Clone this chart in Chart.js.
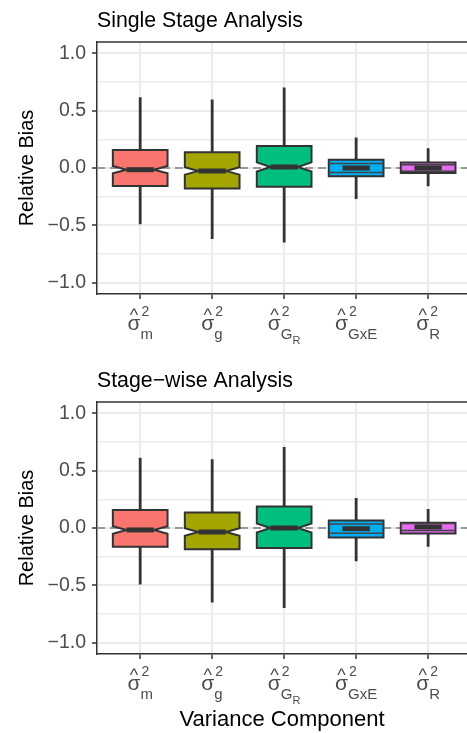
<!DOCTYPE html>
<html>
<head>
<meta charset="utf-8">
<script src="https://cdn.jsdelivr.net/npm/chart.js@4"></script>
<style>
html, body { margin: 0; padding: 0; background: #fff; }
canvas { position: absolute; left: 0; }
#chart1 { top: 0; }
#chart2 { top: 360px; }
</style>
</head>
<body>
<canvas id="chart1" width="467" height="360"></canvas>
<canvas id="chart2" width="467" height="373"></canvas>
<script>
// categories: subscripts of sigma-hat squared
const components = ['m', 'g', 'G', 'GxE', 'R']
const subSub = ['', '', 'R', '', '']
const boxColors = ['#F8766D', '#A3A500', '#00BF7D', '#00B0F6', '#E76BF3']
const yTicks = [-1, -0.75, -0.5, -0.25, 0, 0.25, 0.5, 0.75, 1]

// Single stage analysis
const singleLow = [-0.49, -0.62, -0.65, -0.27, -0.16]
const singleQ1 = [-0.158, -0.178, -0.164, -0.072, -0.043]
const singleMed = [-0.015, -0.026, 0.009, 0.0, 0.0]
const singleQ3 = [0.158, 0.138, 0.192, 0.072, 0.048]
const singleHigh = [0.617, 0.597, 0.703, 0.267, 0.172]
const singleNotch = [0.032, 0.032, 0.04, 0.04, 0.029]

// Stage-wise analysis
const stageLow = [-0.493, -0.65, -0.699, -0.29, -0.163]
const stageQ1 = [-0.163, -0.186, -0.174, -0.082, -0.047]
const stageMed = [-0.017, -0.035, 0.0, -0.006, 0.009]
const stageQ3 = [0.157, 0.136, 0.188, 0.066, 0.046]
const stageHigh = [0.614, 0.6, 0.707, 0.261, 0.165]
const stageNotch = [0.033, 0.033, 0.04, 0.04, 0.03]

const flatNotch = [false, false, false, true, true]
const boxWidth = 0.76
const font = '"Liberation Sans", Arial, sans-serif'

function boxPlugin(stats){
  return {
    id: 'boxes',
    beforeDatasetsDraw(chart){
      const {ctx, chartArea, scales: {x, y}} = chart
      ctx.save()
      // dashed zero line
      ctx.strokeStyle = '#999999'
      ctx.lineWidth = 2.2
      ctx.setLineDash([8, 5])
      ctx.beginPath()
      ctx.moveTo(chartArea.left, y.getPixelForValue(0))
      ctx.lineTo(chartArea.right, y.getPixelForValue(0))
      ctx.stroke()
      ctx.setLineDash([])

      components.forEach((c, i) => {
        const cx = x.getPixelForValue(i + 1)
        const xl = x.getPixelForValue(i + 1 - boxWidth / 2)
        const xr = x.getPixelForValue(i + 1 + boxWidth / 2)
        const ind = (xr - xl) / 4
        const yLow = y.getPixelForValue(stats.low[i])
        const yQ1 = y.getPixelForValue(stats.q1[i])
        const yMed = y.getPixelForValue(stats.med[i])
        const yQ3 = y.getPixelForValue(stats.q3[i])
        const yHigh = y.getPixelForValue(stats.high[i])
        const yNu = y.getPixelForValue(stats.med[i] + stats.notch[i])
        const yNl = y.getPixelForValue(stats.med[i] - stats.notch[i])

        // whiskers
        ctx.strokeStyle = '#333333'
        ctx.lineWidth = 2.8
        ctx.beginPath()
        ctx.moveTo(cx, yHigh); ctx.lineTo(cx, yQ3)
        ctx.moveTo(cx, yQ1); ctx.lineTo(cx, yLow)
        ctx.stroke()

        // box
        ctx.beginPath()
        if (flatNotch[i]) {
          ctx.rect(xl, yQ3, xr - xl, yQ1 - yQ3)
        } else {
          ctx.moveTo(xl, yQ3)
          ctx.lineTo(xl, yNu)
          ctx.lineTo(xl + ind, yMed)
          ctx.lineTo(xl, yNl)
          ctx.lineTo(xl, yQ1)
          ctx.lineTo(xr, yQ1)
          ctx.lineTo(xr, yNl)
          ctx.lineTo(xr - ind, yMed)
          ctx.lineTo(xr, yNu)
          ctx.lineTo(xr, yQ3)
          ctx.closePath()
        }
        ctx.fillStyle = boxColors[i]
        ctx.fill()
        ctx.lineWidth = 2
        ctx.strokeStyle = '#333333'
        ctx.stroke()
        if (flatNotch[i]) {
          ctx.lineWidth = 1.5
          ctx.strokeStyle = '#444444'
          ctx.beginPath()
          ctx.moveTo(xl, yNu); ctx.lineTo(xr, yNu)
          ctx.moveTo(xl, yNl); ctx.lineTo(xr, yNl)
          ctx.stroke()
        }
        // median
        ctx.lineWidth = 5
        ctx.strokeStyle = '#333333'
        ctx.beginPath()
        ctx.moveTo(xl + ind, yMed)
        ctx.lineTo(xr - ind, yMed)
        ctx.stroke()
      })
      ctx.restore()
    },
    afterDraw(chart){
      const {ctx, chartArea, scales: {x}} = chart
      ctx.save()
      // panel top border
      ctx.strokeStyle = '#333333'
      ctx.lineWidth = 1.5
      ctx.beginPath()
      ctx.moveTo(chartArea.left, chartArea.top)
      ctx.lineTo(chartArea.right, chartArea.top)
      ctx.stroke()

      // panel title
      ctx.fillStyle = '#000'
      ctx.font = `21.3px ${font}`
      ctx.textAlign = 'left'
      ctx.textBaseline = 'alphabetic'
      ctx.fillText(stats.title, chartArea.left, chartArea.top - 15.5)

      // x labels: sigma hat squared with subscripts
      const base = chartArea.bottom
      ctx.fillStyle = '#4D4D4D'
      components.forEach((c, i) => {
        const cx = x.getPixelForValue(i + 1)
        ctx.font = `21px ${font}`
        const sw = ctx.measureText('σ').width
        ctx.font = `15px ${font}`
        const subW = ctx.measureText(c).width
        ctx.font = `11px ${font}`
        const ssW = subSub[i] ? ctx.measureText(subSub[i]).width : 0
        ctx.font = `14px ${font}`
        const supW = ctx.measureText('2').width
        const total = sw + Math.max(subW + ssW, supW + 1)
        const left = cx - total / 2

        ctx.font = `21px ${font}`
        ctx.fillText('σ', left, base + 36)
        ctx.font = `18px ${font}`
        const hw = ctx.measureText('^').width
        ctx.fillText('^', left + sw / 2 - hw / 2, base + 27)
        ctx.font = `14px ${font}`
        ctx.fillText('2', left + sw + 1, base + 22)
        ctx.font = `15px ${font}`
        ctx.fillText(c, left + sw, base + 44.5)
        if (subSub[i]) {
          ctx.font = `11px ${font}`
          ctx.fillText(subSub[i], left + sw + subW, base + 49.5)
        }
      })
      ctx.restore()
    }
  }
}

function makeChart(id, stats, xScaleHeight, xTitle){
  const isMajor = v => Math.abs(v % 0.5) < 1e-9
  return new Chart(document.getElementById(id).getContext('2d'), {
    type: 'scatter',
    data: { datasets: [] },
    options: {
      responsive: false,
      animation: false,
      layout: { padding: { left: 15, top: 42, right: 0, bottom: 0 } },
      plugins: { legend: { display: false }, tooltip: { enabled: false } },
      scales: {
        x: {
          type: 'linear', min: 0.4, max: 5.54,
          afterBuildTicks: s => { s.ticks = components.map((c, i) => ({ value: i + 1 })) },
          afterFit: s => { s.height = xScaleHeight },
          ticks: { callback: () => '', autoSkip: false },
          grid: { color: '#EBEBEB', lineWidth: 2, tickLength: 5, tickColor: '#333333', tickWidth: 1.5 },
          border: { color: '#333333', width: 1.5 },
          title: {
            display: !!xTitle, text: xTitle || '', color: '#000',
            font: { family: font, size: 22 }, padding: { top: 0, bottom: 0 }
          }
        },
        y: {
          type: 'linear', min: -1.1, max: 1.1,
          afterBuildTicks: s => { s.ticks = yTicks.map(v => ({ value: v })) },
          afterFit: s => { s.width = 82 },
          ticks: {
            callback: v => isMajor(v) ? v.toFixed(1).replace('-', '\u2212') : '',
            font: { family: font, size: 19.5 }, color: '#4D4D4D', padding: 6, autoSkip: false
          },
          grid: {
            color: '#EBEBEB',
            lineWidth: ctx => isMajor(ctx.tick.value) ? 2 : 1.4,
            tickLength: 5,
            tickColor: ctx => isMajor(ctx.tick.value) ? '#333333' : 'rgba(0,0,0,0)',
            tickWidth: 1.5
          },
          border: { color: '#333333', width: 1.5 },
          title: {
            display: true, text: 'Relative Bias', color: '#000',
            font: { family: font, size: 20 }, padding: 0
          }
        }
      }
    },
    plugins: [boxPlugin(stats)]
  })
}

makeChart('chart1', {
  title: 'Single Stage Analysis',
  low: singleLow, q1: singleQ1, med: singleMed, q3: singleQ3, high: singleHigh, notch: singleNotch
}, 66)

makeChart('chart2', {
  title: 'Stage\u2212wise Analysis',
  low: stageLow, q1: stageQ1, med: stageMed, q3: stageQ3, high: stageHigh, notch: stageNotch
}, 79, 'Variance Component')
</script>
</body>
</html>
